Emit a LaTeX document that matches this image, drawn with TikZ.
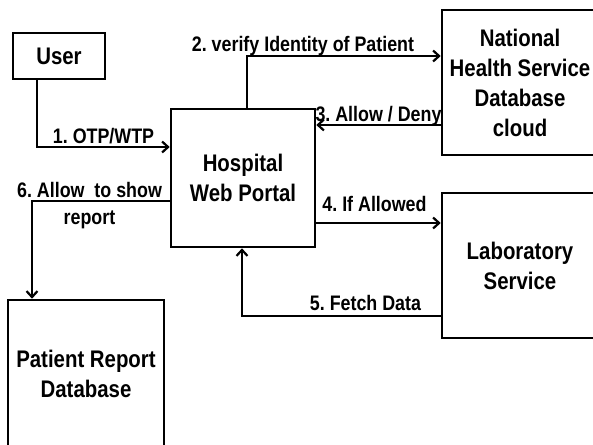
\documentclass[tikz,border=0pt]{standalone}
\usepackage{fontspec}
\setmainfont{Liberation Sans}[FakeStretch=0.85]
\usetikzlibrary{arrows.meta}
\frenchspacing
\begin{document}
\begin{tikzpicture}[x=1pt,y=-1pt,
  box/.style={draw, line width=2.6pt, inner sep=0pt, align=center,
    font=\fontsize{24}{30}\selectfont\bfseries},
  lbl/.style={inner sep=0pt, align=center,
    font=\fontsize{21}{27}\selectfont\bfseries},
  arr/.style={line width=2.2pt, -{Straight Barb[length=6pt,width=11pt]}}]
\useasboundingbox (0,0) rectangle (593,444);
\clip (0,0) rectangle (593,444);
% boxes
\node[box, minimum width=92pt, minimum height=46pt] (user) at (59,56) {User};
\node[box, minimum width=144pt, minimum height=138pt] (hosp) at (243,178) {Hospital\\Web Portal};
\node[box, minimum width=156pt, minimum height=145pt] (nhs) at (520,82.5) {National\\Health Service\\Database\\cloud};
\node[box, minimum width=156pt, minimum height=145pt] (lab) at (520,265.5) {Laboratory\\Service};
\node[box, minimum width=156pt, minimum height=148pt] (prd) at (86,374) {Patient Report\\Database};
% helper coordinates
\coordinate (c1) at (37,147);
\coordinate (c2) at (247,56);
\coordinate (c3) at (0,125);
\coordinate (c4) at (0,223);
\coordinate (c5) at (242,316);
\coordinate (c6) at (32,201);
% connectors
\draw[arr] (user.south -| c1) |- (hosp.west |- c1);
\draw[arr] (hosp.north -| c2) |- (nhs.west |- c2);
\draw[arr] (nhs.west |- c3) -- (hosp.east |- c3);
\draw[arr] (hosp.east |- c4) -- (lab.west |- c4);
\draw[arr] (lab.west |- c5) -| (hosp.south -| c5);
\draw[arr] (hosp.west |- c6) -| (prd.north -| c6);
% labels
\node[lbl, anchor=base] (l1) at (103.5,143.3) {1. OTP/WTP};
\node[lbl, anchor=base] (l2) at (303,51.5) {2. verify Identity of Patient};
\node[lbl, anchor=base] (l3) at (378.5,121.5) {3. Allow / Deny};
\node[lbl, anchor=base] (l4) at (374.5,211.7) {4. If Allowed};
\node[lbl, anchor=base] (l5) at (365.5,310.7) {5. Fetch Data};
\node[lbl] (l6) at (89.5,205.5) {6. Allow\ \ to show\\report};
\end{tikzpicture}
\end{document}
